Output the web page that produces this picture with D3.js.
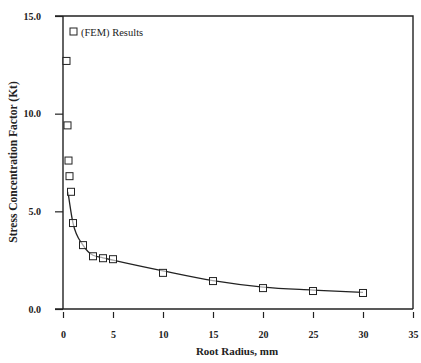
<!DOCTYPE html>
<html><head><meta charset="utf-8">
<script src="https://cdn.jsdelivr.net/npm/d3@7"></script>
<style>body{margin:0;background:#fff}svg{display:block}</style>
</head><body>
<script>
const radius = [0.05, 0.15, 0.25, 0.35, 0.5, 1, 2, 3, 4, 5, 10, 15, 20, 25, 30];
const kt = [12.7, 9.4, 7.6, 6.8, 6.0, 4.4, 3.27, 2.7, 2.6, 2.55, 1.85, 1.43, 1.07, 0.92, 0.82];
const curveX = [0.5, 1, 2, 3, 4, 5, 10, 15, 20, 25, 30];
const curveY = [6.0, 4.4, 3.27, 2.75, 2.62, 2.5, 1.95, 1.45, 1.12, 0.97, 0.85];
const xTicks = [0, 5, 10, 15, 20, 25, 30, 35];
const yTicks = [0, 5, 10, 15];

const W = 421, H = 363;
const svg = d3.select("body").append("svg").attr("width", W).attr("height", H);
const x = d3.scaleLinear().domain([0, 35]).range([63, 413]);
const y = d3.scaleLinear().domain([0, 15]).range([309, 16]);
const ink = "#222";

// frame
svg.append("path").attr("d", `M55,${y(15)}H${x(35)}V${y(0)}`).attr("fill","none").attr("stroke",ink).attr("stroke-width",1.4);
svg.append("line").attr("x1",55).attr("x2",x(35)).attr("y1",y(0)).attr("y2",y(0)).attr("stroke",ink).attr("stroke-width",1.6);

const yAxis = svg.append("g").attr("transform",`translate(${x(0)},0)`)
  .call(d3.axisLeft(y).tickValues(yTicks).tickFormat(d3.format(".1f")).tickSize(8).tickPadding(14));
const xAxis = svg.append("g").attr("transform",`translate(0,${y(0)+3})`)
  .call(d3.axisBottom(x).tickValues(xTicks).tickFormat(d3.format("d")).tickSize(6).tickPadding(13));
xAxis.select(".domain").remove();
yAxis.select(".domain").attr("stroke",ink).attr("stroke-width",1.4).attr("d",`M0,${y(15)}V${y(0)}`);
svg.selectAll(".tick line").attr("stroke",ink).attr("stroke-width",1.2);
svg.selectAll(".tick text").attr("fill",ink).style("font-family","'Liberation Serif', serif").style("font-weight","bold").style("font-size","10px");

// curve
const line = d3.line().x(d=>x(d[0])).y(d=>y(d[1])).curve(d3.curveMonotoneX);
svg.append("path").datum(d3.zip(curveX, curveY)).attr("d", line)
  .attr("fill","none").attr("stroke",ink).attr("stroke-width",1.3);

// markers
const s = 7;
svg.append("g").selectAll("rect").data(d3.zip(radius, kt)).join("rect")
  .attr("x", d=>x(d[0])-s/2+ (d[0]<0.6?3:0)).attr("y", d=>y(d[1])-s/2)
  .attr("width", s).attr("height", s)
  .attr("fill","white").attr("fill-opacity",0.6).attr("stroke",ink).attr("stroke-width",1);

// legend
svg.append("rect").attr("x",70).attr("y",28).attr("width",7).attr("height",7)
  .attr("fill","none").attr("stroke",ink).attr("stroke-width",1);
svg.append("text").attr("x",81).attr("y",35.5).text("(FEM) Results")
  .style("font-family","'Liberation Serif', serif").style("font-size","10.5px").attr("fill",ink);

// axis titles
svg.append("text").attr("x",237).attr("y",355).attr("text-anchor","middle").text("Root Radius, mm")
  .style("font-family","'Liberation Serif', serif").style("font-weight","bold").style("font-size","11px").attr("fill",ink);
svg.append("text").attr("transform","translate(17,162) rotate(-90)").attr("text-anchor","middle")
  .text("Stress Concentration Factor (Kt)")
  .style("font-family","'Liberation Serif', serif").style("font-weight","bold").style("font-size","11.5px").attr("fill",ink);
</script>
</body></html>
